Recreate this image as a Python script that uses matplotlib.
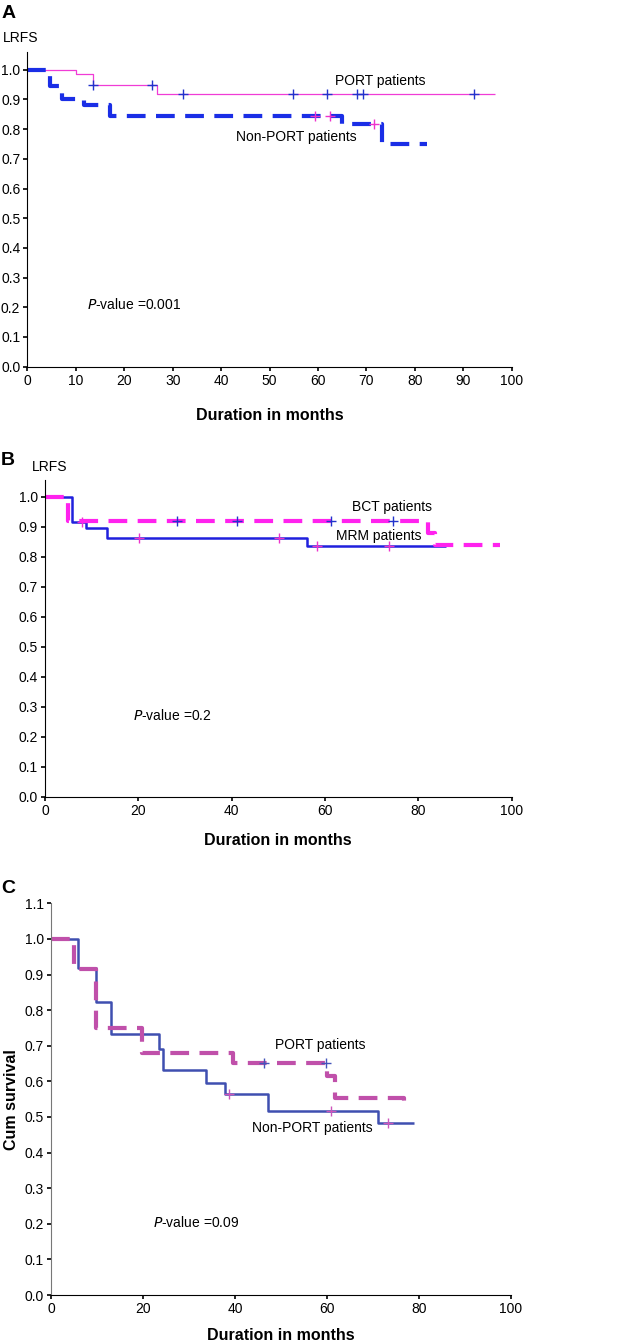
import matplotlib
matplotlib.use("Agg")
import matplotlib.pyplot as plt
import numpy as np

plt.rcParams["font.family"] = ["Liberation Sans", "DejaVu Sans"]

# Panel A: PORT vs Non-PORT (LRFS)
a_port_t = [0, 10.0, 13.5, 26.8, 96.6]
a_port_s = [1.0, 0.985, 0.95, 0.917, 0.917]
a_port_cens = [13.5, 25.7, 32.1, 54.8, 61.9, 68.0, 69.2, 92.1]
a_non_t = [0, 4.7, 7.1, 11.6, 17.1, 64.9, 73.2, 82.4]
a_non_s = [1.0, 0.946, 0.901, 0.881, 0.844, 0.817, 0.75, 0.75]
a_non_cens = [59.4, 62.4, 71.6]

# Panel B: BCT vs MRM (LRFS)
b_bct_t = [0, 5.0, 82.0, 83.6, 97.5]
b_bct_s = [1.0, 0.919, 0.878, 0.839, 0.839]
b_bct_cens = [28.2, 41.1, 61.4, 74.6]
b_mrm_t = [0, 5.7, 8.8, 13.2, 56.2, 85.9]
b_mrm_s = [1.0, 0.917, 0.897, 0.861, 0.837, 0.837]
b_mrm_cens = [7.9, 20.2, 50.2, 58.4, 73.8]

# Panel C: PORT vs Non-PORT (cumulative survival)
c_non_t = [0, 5.9, 9.8, 13.0, 23.6, 24.3, 33.7, 37.9, 47.1, 71.2, 79.0]
c_non_s = [1.0, 0.919, 0.822, 0.733, 0.69, 0.632, 0.595, 0.565, 0.518, 0.483, 0.483]
c_non_cens = [38.8, 60.9, 73.2]
c_port_t = [0, 4.9, 9.8, 19.8, 39.5, 60.1, 61.8, 76.8]
c_port_s = [1.0, 0.915, 0.749, 0.681, 0.651, 0.615, 0.554, 0.534]
c_port_cens = [46.4, 59.8]


def km(ax, t, s, cens, color, lw, dashed, mcolor):
    line, = ax.step(t, s, where="post", color=color, lw=lw, solid_capstyle="butt")
    if dashed:
        line.set_dashes((4.5, 2.5))
    t = np.asarray(t)
    s = np.asarray(s)
    idx = np.searchsorted(t, cens, side="right") - 1
    ax.plot(cens, s[idx], "+", color=mcolor, ms=7, mew=1.0, ls="none")


def style(ax, xticks, yticks, ylim, labelpad):
    for side in ("top", "right"):
        ax.spines[side].set_visible(False)
    ax.set_xlim(0, 100)
    ax.set_ylim(*ylim)
    ax.set_xticks(xticks)
    ax.set_yticks(yticks)
    ax.set_yticklabels([f"{v:.1f}" for v in yticks])
    ax.tick_params(labelsize=10, length=3, width=1.2, pad=2)
    ax.set_xlabel("Duration in months", fontsize=11.5, fontweight="bold",
                  labelpad=labelpad)


fig = plt.figure(figsize=(6.18, 13.43), dpi=100)

# A
ax = fig.add_axes([0.0442, 0.727, 0.784, 0.2343])
km(ax, a_port_t, a_port_s, a_port_cens, "#f03cd6", 0.9, False, "#2233cc")
km(ax, a_non_t, a_non_s, a_non_cens, "#1a2ee6", 3.0, True, "#ee33cc")
style(ax, np.arange(0, 101, 10), np.round(np.arange(0, 1.01, 0.1), 1), (0, 1.06), 15)
ax.text(72.8, 0.962, "PORT patients", fontsize=10, ha="center", va="center")
ax.text(55.6, 0.775, "Non-PORT patients", fontsize=10, ha="center", va="center")
ax.text(12.4, 0.208, r"$\it{P}$-value =0.001", fontsize=10, ha="left", va="center")
ax.text(-0.05, 1.022, "LRFS", transform=ax.transAxes, fontsize=10, ha="left", va="bottom")
fig.text(0.002, 0.9965, "A", fontsize=14, fontweight="bold", ha="left", va="top")

# B
ax = fig.add_axes([0.0728, 0.4068, 0.755, 0.2358])
km(ax, b_mrm_t, b_mrm_s, b_mrm_cens, "#2020dd", 1.8, False, "#ee33cc")
km(ax, b_bct_t, b_bct_s, b_bct_cens, "#ff22ee", 3.0, True, "#2233cc")
style(ax, np.arange(0, 101, 20), np.round(np.arange(0, 1.01, 0.1), 1), (0, 1.056), 11)
ax.text(74.3, 0.967, "BCT patients", fontsize=10, ha="center", va="center")
ax.text(71.6, 0.869, "MRM patients", fontsize=10, ha="center", va="center")
ax.text(18.9, 0.269, r"$\it{P}$-value =0.2", fontsize=10, ha="left", va="center")
ax.text(-0.028, 1.018, "LRFS", transform=ax.transAxes, fontsize=10, ha="left", va="bottom")
fig.text(0.002, 0.6635, "B", fontsize=14, fontweight="bold", ha="left", va="top")

# C
ax = fig.add_axes([0.0825, 0.0357, 0.744, 0.2917])
km(ax, c_non_t, c_non_s, c_non_cens, "#3f4fb0", 1.8, False, "#cc55bb")
km(ax, c_port_t, c_port_s, c_port_cens, "#c050aa", 3.0, True, "#4455bb")
style(ax, np.arange(0, 101, 20), np.round(np.arange(0, 1.11, 0.1), 1), (0, 1.1), 9)
ax.spines["left"].set_color("#777777")
ax.text(58.5, 0.702, "PORT patients", fontsize=10, ha="center", va="center")
ax.text(56.9, 0.468, "Non-PORT patients", fontsize=10, ha="center", va="center")
ax.text(22.2, 0.204, r"$\it{P}$-value =0.09", fontsize=10, ha="left", va="center")
ax.set_ylabel("Cum survival", fontsize=11.5, fontweight="bold", labelpad=4)
fig.text(0.002, 0.345, "C", fontsize=14, fontweight="bold", ha="left", va="top")

fig.savefig("out.png", dpi=100)
